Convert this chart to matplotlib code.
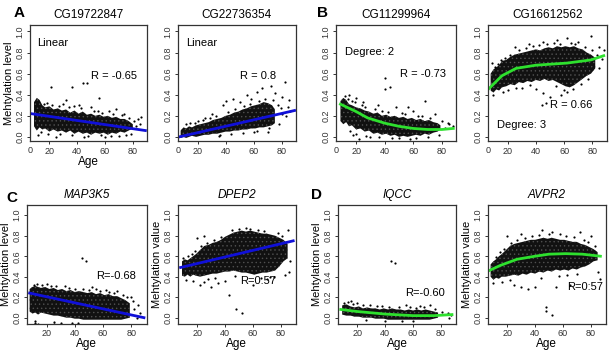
import matplotlib.pyplot as plt

plt.rcParams['font.family'] = ['Liberation Sans', 'DejaVu Sans']
plt.rcParams['hatch.linewidth'] = 0.5

# ---------------- data ----------------
# each panel: dense cloud as (age, low, high), loose points, and the fitted curve

# A - CG19722847 (linear)
a1_age = [9, 11, 13, 15, 17, 20, 23, 26, 29, 32, 35, 38, 41, 44, 47, 50, 53, 56, 59, 62, 65, 68, 71, 74, 77, 80]
a1_lo = [0.10, 0.06, 0.09, 0.07, 0.08, 0.05, 0.07, 0.05, 0.06, 0.04, 0.06, 0.03, 0.05, 0.03, 0.04, 0.02, 0.04, 0.03, 0.04, 0.02, 0.04, 0.03, 0.05, 0.04, 0.06, 0.08]
a1_hi = [0.33, 0.37, 0.35, 0.30, 0.28, 0.29, 0.26, 0.27, 0.25, 0.26, 0.23, 0.25, 0.22, 0.24, 0.21, 0.22, 0.20, 0.21, 0.19, 0.20, 0.18, 0.19, 0.17, 0.17, 0.15, 0.12]
a1_px = [21, 36, 44, 47, 56, 32, 68, 86, 84, 30, 41, 50, 63, 74, 12, 25, 45, 60, 82, 18, 38, 55, 70, 79,
         16, 22, 27, 34, 43, 52, 58, 66, 72, 77, 81, 85, 14, 19, 28, 36, 48, 57, 64, 75]
a1_py = [0.47, 0.47, 0.51, 0.51, 0.37, 0.35, 0.26, 0.19, 0.17, 0.31, 0.30, 0.28, 0.25, 0.22, 0.02, 0.00, 0.00, 0.00, 0.10, 0.32, 0.29, 0.25, 0.01, 0.03,
         0.31, 0.30, 0.29, 0.28, 0.27, 0.25, 0.23, 0.22, 0.21, 0.18, 0.15, 0.12, 0.05, 0.03, 0.03, 0.02, 0.01, 0.02, 0.01, 0.02]
a1_fit_x = [7, 89]
a1_fit_y = [0.22, 0.06]

# A - CG22736354 (linear)
a2_age = [8, 10, 12, 14, 16, 19, 22, 25, 28, 31, 34, 37, 40, 43, 46, 49, 52, 55, 58, 61, 64, 67, 70, 73, 75]
a2_lo = [-0.01, 0.00, -0.01, 0.00, 0.01, 0.00, 0.01, 0.02, 0.02, 0.03, 0.03, 0.04, 0.05, 0.05, 0.06, 0.06, 0.07, 0.07, 0.08, 0.08, 0.09, 0.09, 0.10, 0.11, 0.13]
a2_hi = [0.06, 0.09, 0.08, 0.10, 0.09, 0.11, 0.12, 0.13, 0.14, 0.16, 0.17, 0.18, 0.20, 0.21, 0.23, 0.24, 0.26, 0.27, 0.29, 0.30, 0.31, 0.33, 0.32, 0.30, 0.26]
a2_px = [40, 45, 55, 62, 66, 72, 75, 82, 80, 85, 84, 78, 70, 60, 38, 50, 30, 25, 20, 15, 80, 86, 35, 58,
         12, 18, 24, 29, 33, 42, 47, 53, 57, 64, 68, 74, 77, 79, 83, 36, 44, 52, 62, 71]
a2_py = [0.34, 0.36, 0.40, 0.43, 0.46, 0.48, 0.42, 0.52, 0.38, 0.35, 0.28, 0.12, 0.05, 0.05, 0.30, 0.33, 0.22, 0.18, 0.15, 0.13, 0.22, 0.25, 0.01, 0.36,
         0.12, 0.13, 0.16, 0.18, 0.20, 0.24, 0.26, 0.29, 0.31, 0.34, 0.36, 0.35, 0.30, 0.27, 0.20, 0.02, 0.03, 0.04, 0.06, 0.08]
a2_fit_x = [7, 89]
a2_fit_y = [0.00, 0.25]

# B - CG11299964 (degree 2)
b1_age = [9, 11, 13, 15, 17, 20, 23, 26, 29, 32, 35, 38, 41, 44, 47, 50, 53, 56, 59, 62, 65, 68, 71, 74, 77, 79]
b1_lo = [0.15, 0.12, 0.14, 0.10, 0.11, 0.07, 0.08, 0.05, 0.06, 0.03, 0.04, 0.02, 0.03, 0.01, 0.02, 0.00, 0.01, 0.00, 0.01, 0.02, 0.01, 0.03, 0.02, 0.04, 0.05, 0.07]
b1_hi = [0.34, 0.37, 0.35, 0.31, 0.30, 0.28, 0.27, 0.25, 0.24, 0.22, 0.23, 0.20, 0.21, 0.19, 0.20, 0.18, 0.19, 0.17, 0.18, 0.16, 0.17, 0.15, 0.16, 0.14, 0.13, 0.11]
b1_px = [40, 40, 44, 56, 68, 15, 20, 25, 35, 48, 60, 85, 88, 22, 30, 58, 70, 18, 27, 45, 75, 82,
         12, 14, 17, 19, 24, 26, 33, 38, 42, 52, 54, 63, 66, 72, 80, 84, 16, 20, 36, 50, 62, 78]
b1_py = [0.56, 0.45, 0.47, 0.28, 0.34, 0.40, 0.37, 0.33, 0.30, 0.28, 0.25, 0.12, 0.10, -0.02, 0.00, -0.02, 0.00, 0.02, 0.01, -0.01, 0.22, 0.08,
         0.39, 0.36, 0.34, 0.33, 0.30, 0.28, 0.26, 0.25, 0.24, 0.23, 0.22, 0.20, 0.20, 0.18, 0.15, 0.13, 0.06, 0.03, 0.00, -0.01, -0.01, 0.02]
b1_fit_x = [9, 20, 28, 40, 50, 60, 70, 80, 88]
b1_fit_y = [0.31, 0.24, 0.18, 0.13, 0.10, 0.08, 0.07, 0.07, 0.08]

# B - CG16612562 (degree 3)
b2_age = [8, 10, 12, 14, 16, 19, 22, 25, 28, 31, 34, 37, 40, 43, 46, 49, 52, 55, 58, 61, 64, 67, 70, 73, 76, 79, 82]
b2_lo = [0.44, 0.42, 0.45, 0.44, 0.47, 0.48, 0.50, 0.49, 0.52, 0.51, 0.53, 0.52, 0.54, 0.53, 0.55, 0.53, 0.54, 0.52, 0.50, 0.48, 0.47, 0.49, 0.52, 0.55, 0.58, 0.60, 0.65]
b2_hi = [0.60, 0.64, 0.66, 0.68, 0.72, 0.73, 0.76, 0.78, 0.79, 0.80, 0.81, 0.82, 0.83, 0.82, 0.84, 0.85, 0.84, 0.86, 0.85, 0.86, 0.85, 0.86, 0.84, 0.83, 0.80, 0.78, 0.75]
b2_px = [9, 15, 25, 35, 45, 55, 62, 70, 79, 85, 88, 40, 45, 50, 58, 62, 66, 72, 85, 20, 30, 44, 47, 87,
         11, 13, 18, 22, 28, 33, 38, 42, 48, 53, 57, 65, 68, 75, 80, 83, 10, 17, 26, 36, 54, 60, 77]
b2_py = [0.70, 0.73, 0.85, 0.88, 0.90, 0.92, 0.94, 0.90, 0.96, 0.85, 0.82, 0.45, 0.42, 0.38, 0.40, 0.43, 0.45, 0.50, 0.65, 0.44, 0.46, 0.30, 0.32, 0.74,
         0.66, 0.69, 0.75, 0.78, 0.82, 0.84, 0.86, 0.87, 0.88, 0.89, 0.88, 0.89, 0.88, 0.85, 0.82, 0.78, 0.40, 0.43, 0.46, 0.49, 0.48, 0.44, 0.55]
b2_fit_x = [7, 16, 26, 40, 62, 79, 88]
b2_fit_y = [0.46, 0.58, 0.65, 0.68, 0.70, 0.73, 0.77]

# C - MAP3K5 (linear)
c1_age = [8, 10, 12, 14, 16, 19, 22, 25, 28, 31, 34, 37, 40, 43, 46, 49, 52, 55, 58, 61, 64, 67, 70, 73, 76, 79]
c1_lo = [0.06, 0.04, 0.05, 0.03, 0.05, 0.04, 0.03, 0.02, 0.02, 0.01, 0.00, 0.00, -0.01, -0.01, -0.02, -0.02, -0.02, -0.02, -0.02, -0.02, -0.02, -0.02, -0.02, -0.02, -0.01, 0.00]
c1_hi = [0.28, 0.30, 0.31, 0.30, 0.29, 0.30, 0.28, 0.29, 0.27, 0.28, 0.26, 0.27, 0.25, 0.26, 0.25, 0.24, 0.25, 0.23, 0.24, 0.22, 0.23, 0.21, 0.21, 0.19, 0.17, 0.14]
c1_px = [45, 48, 52, 55, 62, 70, 80, 85, 86, 84, 82, 14, 25, 30, 38, 42, 20, 33,
         11, 13, 17, 23, 27, 36, 40, 46, 50, 58, 64, 68, 74, 77, 81, 12, 12, 25, 25, 30, 30]
c1_py = [0.58, 0.55, 0.30, 0.28, 0.27, 0.26, 0.20, 0.12, 0.05, 0.00, 0.08, -0.06, -0.06, -0.07, -0.05, -0.05, 0.33, 0.31,
         0.32, 0.33, 0.32, 0.31, 0.31, 0.29, 0.28, 0.28, 0.27, 0.26, 0.25, 0.24, 0.22, 0.20, 0.16, -0.03, -0.05, -0.04, -0.08, -0.05, -0.09]
c1_fit_x = [8, 89]
c1_fit_y = [0.24, 0.00]

# C - DPEP2 (linear)
c2_age = [9, 11, 13, 15, 17, 19, 22, 25, 28, 31, 34, 37, 40, 43, 46, 49, 52, 55, 58, 61, 64, 67, 70, 73, 76, 79, 82, 85]
c2_lo = [0.41, 0.40, 0.42, 0.40, 0.42, 0.41, 0.40, 0.41, 0.42, 0.43, 0.43, 0.44, 0.45, 0.45, 0.46, 0.45, 0.44, 0.44, 0.43, 0.42, 0.43, 0.44, 0.44, 0.45, 0.46, 0.50, 0.55, 0.58]
c2_hi = [0.55, 0.57, 0.56, 0.58, 0.60, 0.62, 0.66, 0.70, 0.71, 0.73, 0.74, 0.76, 0.79, 0.81, 0.83, 0.84, 0.85, 0.84, 0.85, 0.84, 0.83, 0.82, 0.82, 0.81, 0.80, 0.78, 0.76, 0.72]
c2_px = [43, 48, 52, 22, 25, 30, 35, 20, 25, 85, 87, 86, 83, 60, 70, 75, 40, 55,
         10, 13, 16, 18, 23, 27, 32, 37, 45, 50, 58, 64, 68, 78, 81, 12, 17, 28, 33, 47, 66, 72]
c2_py = [0.22, 0.08, 0.05, 0.32, 0.35, 0.30, 0.34, 0.78, 0.80, 0.86, 0.55, 0.45, 0.42, 0.32, 0.38, 0.40, 0.36, 0.88,
         0.58, 0.60, 0.62, 0.65, 0.70, 0.73, 0.76, 0.79, 0.86, 0.87, 0.87, 0.86, 0.85, 0.83, 0.80, 0.37, 0.36, 0.38, 0.39, 0.41, 0.39, 0.40]
c2_fit_x = [8, 89]
c2_fit_y = [0.49, 0.75]

# D - IQCC (curve)
d1_age = [9, 12, 15, 18, 21, 24, 27, 30, 33, 36, 39, 42, 45, 48, 51, 54, 57, 60, 63, 66, 69, 72, 75, 78]
d1_lo = [0.03, 0.02, 0.02, 0.01, 0.01, 0.00, 0.00, 0.00, -0.01, -0.01, -0.01, -0.02, -0.02, -0.02, -0.02, -0.02, -0.02, -0.02, -0.02, -0.02, -0.02, -0.02, -0.01, 0.00]
d1_hi = [0.12, 0.13, 0.11, 0.10, 0.11, 0.09, 0.10, 0.09, 0.09, 0.08, 0.09, 0.08, 0.09, 0.08, 0.08, 0.07, 0.08, 0.07, 0.08, 0.07, 0.08, 0.07, 0.06, 0.05]
d1_px = [44, 47, 15, 20, 85, 87, 86, 55, 65, 72,
         10, 13, 17, 24, 29, 34, 38, 43, 50, 58, 62, 68, 76, 81, 26, 40, 52, 60]
d1_py = [0.55, 0.53, 0.16, 0.14, 0.05, 0.03, 0.00, 0.12, 0.11, 0.12,
         0.14, 0.15, 0.13, 0.12, 0.12, 0.11, 0.11, 0.10, 0.10, 0.10, 0.09, 0.10, 0.08, 0.06, -0.02, -0.03, -0.03, -0.03]
d1_fit_x = [8, 20, 40, 60, 75, 88]
d1_fit_y = [0.08, 0.06, 0.035, 0.02, 0.02, 0.03]

# D - AVPR2 (curve)
d2_age = [8, 10, 12, 14, 16, 19, 22, 25, 28, 31, 34, 37, 40, 43, 46, 49, 52, 55, 58, 61, 64, 67, 70, 73, 76, 79, 82, 85]
d2_lo = [0.40, 0.37, 0.39, 0.38, 0.40, 0.40, 0.41, 0.42, 0.41, 0.43, 0.42, 0.44, 0.43, 0.45, 0.44, 0.46, 0.45, 0.47, 0.46, 0.47, 0.46, 0.48, 0.47, 0.49, 0.50, 0.52, 0.55, 0.56]
d2_hi = [0.52, 0.55, 0.57, 0.60, 0.62, 0.66, 0.70, 0.72, 0.73, 0.74, 0.75, 0.76, 0.76, 0.77, 0.78, 0.77, 0.78, 0.77, 0.76, 0.76, 0.75, 0.74, 0.74, 0.72, 0.71, 0.69, 0.67, 0.64]
d2_px = [45, 52, 58, 48, 48, 52, 25, 30, 35, 40, 55, 65, 87, 85, 20, 30, 80, 72,
         12, 15, 18, 23, 27, 33, 38, 43, 50, 62, 68, 75, 78, 83, 10, 16, 22, 44, 57, 63, 70]
d2_py = [0.86, 0.84, 0.82, 0.10, 0.07, 0.03, 0.32, 0.30, 0.28, 0.30, 0.30, 0.32, 0.38, 0.45, 0.80, 0.82, 0.80, 0.84,
         0.59, 0.64, 0.67, 0.73, 0.76, 0.78, 0.80, 0.81, 0.82, 0.80, 0.79, 0.76, 0.74, 0.70, 0.34, 0.35, 0.37, 0.39, 0.41, 0.42, 0.43]
d2_fit_x = [7, 15, 27, 40, 50, 62, 74, 87]
d2_fit_y = [0.46, 0.51, 0.57, 0.60, 0.62, 0.625, 0.62, 0.60]

titles = ['CG19722847', 'CG22736354', 'CG11299964', 'CG16612562', 'MAP3K5', 'DPEP2', 'IQCC', 'AVPR2']
r_labels = ['R = -0.65', 'R = 0.8', 'R = -0.73', 'R = 0.66', 'R=-0.68', 'R=0.57', 'R=-0.60', 'R=0:57']

BLUE = '#1010d8'
GREEN = '#2ee02e'

panels = [
    # data, fit colour, axes rect, R label pos, extra label, ylabel
    ((a1_age, a1_lo, a1_hi, a1_px, a1_py, a1_fit_x, a1_fit_y), BLUE, [0.049, 0.607, 0.192, 0.323], (0.52, 0.56), ('Linear', 0.06, 0.845), 'Mehtylation level'),
    ((a2_age, a2_lo, a2_hi, a2_px, a2_py, a2_fit_x, a2_fit_y), BLUE, [0.292, 0.607, 0.194, 0.323], (0.53, 0.56), ('Linear', 0.07, 0.845), None),
    ((b1_age, b1_lo, b1_hi, b1_px, b1_py, b1_fit_x, b1_fit_y), GREEN, [0.552, 0.607, 0.197, 0.323], (0.53, 0.58), ('Degree: 2', 0.075, 0.77), None),
    ((b2_age, b2_lo, b2_hi, b2_px, b2_py, b2_fit_x, b2_fit_y), GREEN, [0.801, 0.607, 0.195, 0.323], (0.52, 0.31), ('Degree: 3', 0.075, 0.14), None),
    ((c1_age, c1_lo, c1_hi, c1_px, c1_py, c1_fit_x, c1_fit_y), BLUE, [0.044, 0.098, 0.197, 0.331], (0.58, 0.40), None, 'Mehtylation level'),
    ((c2_age, c2_lo, c2_hi, c2_px, c2_py, c2_fit_x, c2_fit_y), BLUE, [0.292, 0.098, 0.194, 0.331], (0.525, 0.36), None, 'Mehtylation value'),
    ((d1_age, d1_lo, d1_hi, d1_px, d1_py, d1_fit_x, d1_fit_y), GREEN, [0.555, 0.098, 0.194, 0.331], (0.57, 0.26), None, 'Mehtylation level'),
    ((d2_age, d2_lo, d2_hi, d2_px, d2_py, d2_fit_x, d2_fit_y), GREEN, [0.801, 0.098, 0.194, 0.331], (0.67, 0.31), None, 'Mehtylation value'),
]

fig = plt.figure(figsize=(6.09, 3.59), dpi=100)

for i, (d, col, rect, rpos, extra, ylab) in enumerate(panels):
    age, lo, hi, px, py, fx, fy = d
    top_row = i < 4
    ax = fig.add_axes(rect)
    ax.fill_between(age, lo, hi, facecolor='#111111', lw=0)
    # faint specks so the cloud reads like a dense scatter, not a solid shape
    ax.fill_between(age, lo, hi, facecolor='none', edgecolor='#505050', hatch='....', lw=0)
    ax.scatter(px, py, s=2.5, color='black', lw=0)
    ax.plot(fx, fy, color=col, lw=2)

    if top_row:
        ax.set_xlim(6, 90)
        ax.set_ylim(-0.04, 1.06)
        ax.set_title(titles[i], fontsize=8.5, pad=5)
        # the 0 tick sits right on the box edge in the original
        ax.text(0.0, -0.045, '0', transform=ax.transAxes, ha='center', va='top', fontsize=6.5, color='#333333')
    else:
        ax.set_xlim(6, 91)
        ax.set_ylim(-0.06, 1.1)
        ax.set_title(titles[i], fontsize=8.5, pad=5, style='italic')
    ax.set_xticks([20, 40, 60, 80])
    ax.set_yticks([0, 0.2, 0.4, 0.6, 0.8, 1.0])
    ax.set_yticklabels(['0.0', '0.2', '0.4', '0.6', '0.8', '1.0'], rotation=90, va='center')
    ax.tick_params(labelsize=6.5, length=2.5, width=0.7, pad=1.5, colors='#333333')
    for s in ax.spines.values():
        s.set_linewidth(0.9)
        s.set_color('#333333')

    ax.text(rpos[0], rpos[1], r_labels[i], transform=ax.transAxes, ha='left', va='center', fontsize=8)
    if extra:
        ax.text(extra[1], extra[2], extra[0], transform=ax.transAxes, ha='left', va='center', fontsize=8)
    if ylab:
        ax.set_ylabel(ylab, fontsize=8, labelpad=1)
    if i == 0 or not top_row:
        ax.set_xlabel('Age', fontsize=8.5, labelpad=0)

# panel letters
fig.text(0.031, 0.963, 'A', fontsize=11, fontweight='bold', ha='center', va='center')
fig.text(0.529, 0.963, 'B', fontsize=11, fontweight='bold', ha='center', va='center')
fig.text(0.020, 0.448, 'C', fontsize=11, fontweight='bold', ha='center', va='center')
fig.text(0.519, 0.457, 'D', fontsize=11, fontweight='bold', ha='center', va='center')

fig.savefig('out.png', dpi=100)
